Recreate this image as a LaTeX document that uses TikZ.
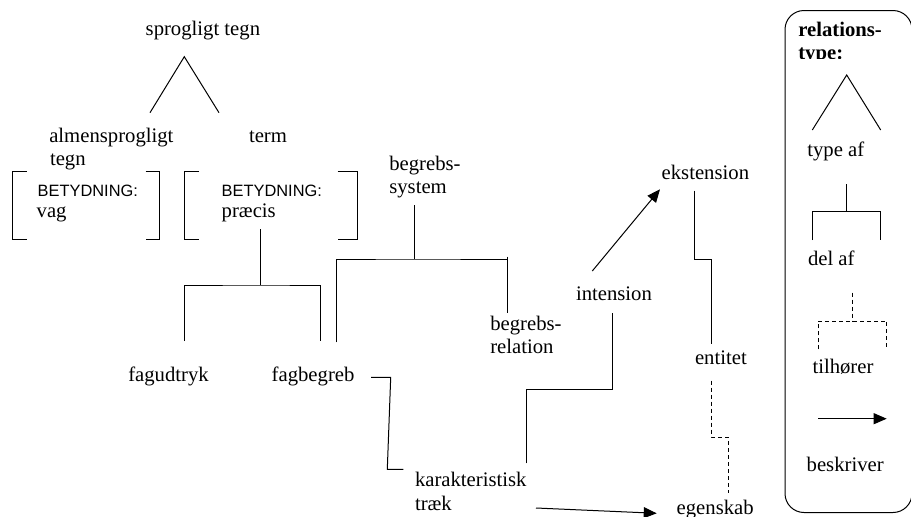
\documentclass[tikz,border=0pt]{standalone}
\usepackage{fontspec}
\setmainfont{Liberation Serif}
\newfontfamily\labelsans{Liberation Sans}
\usetikzlibrary{arrows.meta}

\tikzset{
  lbl/.style={anchor=base west, inner sep=0pt, outer sep=0pt,
    font=\fontsize{20.7}{23.5}\selectfont, align=left},
  caps/.style={lbl, font=\labelsans\fontsize{16.4}{19}\selectfont},
  rel/.style={line width=1pt, line join=miter},
  part/.style={rel},
  owns/.style={rel, dash pattern=on 4pt off 3pt},
  desc/.style={rel, -{Triangle[length=13pt,width=11pt]}},
  legendbox/.style={line width=1pt, rounded corners=19pt}
}

\begin{document}
\begin{tikzpicture}[x=1pt,y=-1pt]
\useasboundingbox (0,0) rectangle (911,517);

% ---------- text ----------
\node[lbl] (sprog)  at (145.7,35)  {sprogligt tegn};
\node[lbl] (almen)  at (49.3,142.7) {almensprogligt};
\node[lbl] (almen2) at (50,165.5)   {tegn};
\node[lbl] (term)   at (249,142.7)  {term};
\node[caps] (bet1)  at (37.7,196.7) {BETYDNING:};
\node[lbl] (vag)    at (36.7,217)   {vag};
\node[caps] (bet2)  at (221.7,196.7) {BETYDNING:};
\node[lbl] (praecis) at (221.7,217) {præcis};
\node[lbl] (sys)    at (389.3,170)  {begrebs-};
\node[lbl] (sys2)   at (389.3,193.3) {system};
\node[lbl] (ekst)   at (661.7,179.3) {ekstension};
\node[lbl] (intens) at (576,300)    {intension};
\node[lbl] (brel)   at (490.3,330)  {begrebs-};
\node[lbl] (brel2)  at (490.3,353.3) {relation};
\node[lbl] (entitet) at (695,364)   {entitet};
\node[lbl] (fagud)  at (128.3,381.5) {fagudtryk};
\node[lbl] (fagbeg) at (271.7,381.5) {fagbegreb};
\node[lbl] (karak)  at (415,486)    {karakteristisk};
\node[lbl] (karak2) at (415,510)    {træk};
\node[lbl] (egensk) at (676.7,514.5) {egenskab};

% ---------- brackets ----------
\draw[rel] (26.7,171.7) -| (12.3,239.3) -- (26.7,239.3);
\draw[rel] (145.7,171.7) -| (159.3,239.3) -- (145.7,239.3);
\draw[rel] (199,171.7) -| (184.3,239.3) -- (199,239.3);
\draw[rel] (337.7,171.7) -| (357.7,239.3) -- (337.7,239.3);

% ---------- connector end points ----------
\coordinate (sprogL) at (150,112.7);
\coordinate (sprogT) at (184.3,56.7);
\coordinate (sprogR) at (219,112.7);

\coordinate (termS)  at (260,229.3);
\coordinate (termJ)  at (260,285);
\coordinate (fagudT) at (184.3,341);
\coordinate (fagbT)  at (320.7,341);

\coordinate (sysS)   at (414,205);
\coordinate (sysJ)   at (414,259);
\coordinate (sysL)   at (336.3,342.3);
\coordinate (sysR)   at (507.7,313.3);
\coordinate (sysRt)  at (507.7,256.5);

\coordinate (fbA) at (371,377.3);
\coordinate (fbB) at (390.7,377.3);
\coordinate (fbC) at (387.3,469.3);
\coordinate (fbD) at (403.3,469.3);

\coordinate (kiA) at (526.7,463.3);
\coordinate (kiB) at (526.7,389.3);
\coordinate (kiC) at (612.3,389.3);
\coordinate (kiD) at (612.3,313.3);

\coordinate (ieA) at (592.3,271);
\coordinate (ieB) at (660,189.3);

\coordinate (eeA) at (694.3,190.7);
\coordinate (eeB) at (694.3,259.3);
\coordinate (eeC) at (711.7,259.3);
\coordinate (eeD) at (711.7,344);

\coordinate (egA) at (711.7,380.7);
\coordinate (egB) at (711.7,437);
\coordinate (egC) at (728,437);
\coordinate (egD) at (728,493.3);

\coordinate (keA) at (536,508);
\coordinate (keB) at (656.7,513.3);

% ---------- relations ----------
\draw[rel] (sprogL) -- (sprogT) -- (sprogR);

\draw[part] (termS) -- (termJ);
\draw[part] (fagudT) |- (termJ) -| (fagbT);

\draw[part] (sysS) -- (sysJ);
\draw[part] (sysL) |- (sysJ) -- (sysJ -| sysR);
\draw[part] (sysRt) -- (sysR);

\draw[rel] (fbA) -- (fbB) -- (fbC) -- (fbD);
\draw[rel] (kiA) -- (kiB) -- (kiC) -- (kiD);
\draw[desc] (ieA) -- (ieB);
\draw[rel] (eeA) -- (eeB) -- (eeC) -- (eeD);
\draw[owns] (egA) -- (egB) -- (egC) -- (egD);
\draw[desc] (keA) -- (keB);

% ---------- legend ----------
\draw[legendbox] (785,10.5) rectangle (912,512.5);
\begin{scope}
  \clip (790,12) rectangle (905,58.6);
  \node[lbl, font=\bfseries\fontsize{20.7}{23.5}\selectfont] (lgtitle) at (798.3,36) {relations-};
  \node[lbl, font=\bfseries\fontsize{20.7}{23.5}\selectfont] (lgtitle2) at (798.3,59.3) {type:};
\end{scope}

\coordinate (lgTL) at (812.3,130);
\coordinate (lgTT) at (846.7,75);
\coordinate (lgTR) at (880.7,130);
\draw[rel] (lgTL) -- (lgTT) -- (lgTR);
\node[lbl] (lgtype) at (807.3,156.7) {type af};

\coordinate (lgDS) at (846.7,184.3);
\coordinate (lgDJ) at (846.7,211.7);
\coordinate (lgDL) at (812.3,240);
\coordinate (lgDR) at (880,240);
\draw[part] (lgDS) -- (lgDJ);
\draw[part] (lgDL) |- (lgDJ) -| (lgDR);
\node[lbl] (lgdel) at (808,265.5) {del af};

\coordinate (lgOS) at (852.7,292.7);
\coordinate (lgOJ) at (852.7,321);
\coordinate (lgOL) at (818.3,349.3);
\coordinate (lgOR) at (886.7,349.3);
\draw[owns] (lgOS) -- (lgOJ);
\draw[owns] (lgOL) |- (lgOJ) -| (lgOR);
\node[lbl] (lgtil) at (812.5,373.3) {tilhører};

\coordinate (lgAA) at (818.3,418.7);
\coordinate (lgAB) at (886.7,418.7);
\draw[desc] (lgAA) -- (lgAB);
\node[lbl] (lgbes) at (806.7,471.7) {beskriver};
\end{tikzpicture}
\end{document}
